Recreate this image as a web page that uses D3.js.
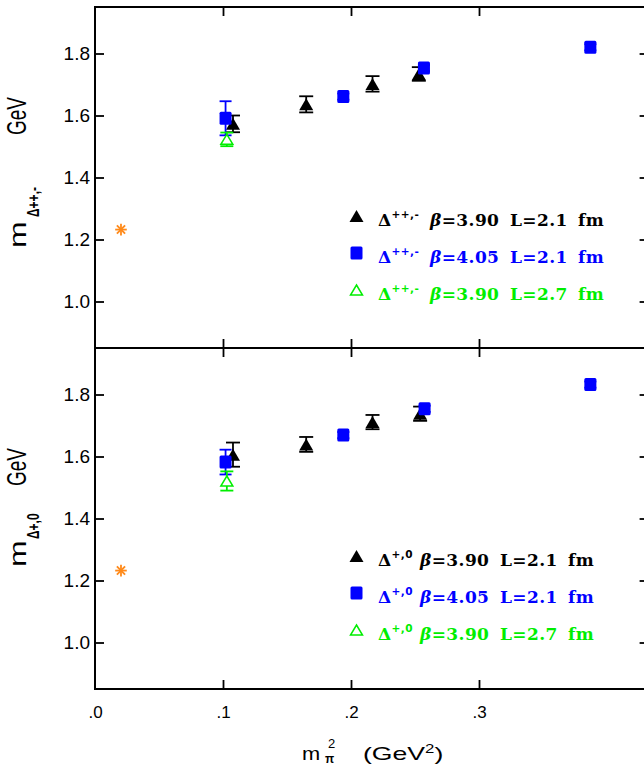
<!DOCTYPE html>
<html>
<head>
<meta charset="utf-8">
<script src="https://cdn.jsdelivr.net/npm/d3@7"></script>
<style>
  body { margin: 0; background: #fff; }
  svg { display: block; }
</style>
</head>
<body>
<div id="chart"></div>
<script>
// tick values
const xTicks = [0, 0.1, 0.2, 0.3];
const yTicks = [1.0, 1.2, 1.4, 1.6, 1.8];

// physical Delta mass
const physPoint = [{ x: 0.0203, y: 1.232 }];

// Delta++,- : x = m_pi^2, y = mass, e = error
const ppB390L21 = [
  { x: 0.1078, y: 1.573, e: 0.027 },
  { x: 0.1650, y: 1.636, e: 0.026 },
  { x: 0.2168, y: 1.702, e: 0.025 },
  { x: 0.2530, y: 1.734, e: 0.022 }
];
const ppB405L21 = [
  { x: 0.1020, y: 1.591, e: 0.055 },
  { x: 0.1940, y: 1.661, e: 0.010 },
  { x: 0.2570, y: 1.753, e: 0.010 },
  { x: 0.3870, y: 1.820, e: 0.010 }
];
const ppB390L27 = [
  { x: 0.1030, y: 1.523, e: 0.022 }
];

// Delta+,0
const p0B390L21 = [
  { x: 0.1078, y: 1.606, e: 0.039 },
  { x: 0.1650, y: 1.639, e: 0.024 },
  { x: 0.2168, y: 1.711, e: 0.023 },
  { x: 0.2540, y: 1.738, e: 0.023 }
];
const p0B405L21 = [
  { x: 0.1020, y: 1.582, e: 0.040 },
  { x: 0.1940, y: 1.669, e: 0.010 },
  { x: 0.2575, y: 1.754, e: 0.010 },
  { x: 0.3870, y: 1.832, e: 0.010 }
];
const p0B390L27 = [
  { x: 0.1030, y: 1.521, e: 0.031 }
];

const legendBeta = ["3.90", "4.05", "3.90"];
const legendL = ["2.1", "2.1", "2.7"];

const BLACK = "#000", BLUE = "#0000ff", GREEN = "#00ee00", ORANGE = "#ff8a1a";
const SANS = "Liberation Sans, Arial, sans-serif";

const W = 644, H = 766;
const svg = d3.select("#chart").append("svg")
    .attr("width", W)
    .attr("height", H);

const x = d3.scaleLinear().domain([0, 0.4325]).range([95, 648.6]);

const panels = [
  { top: 7, bottom: 348, sup: "++,-", sets: [ppB390L21, ppB405L21, ppB390L27],
    legY: 216, bx: 430, mY: 248, subY: 217, gevY: 97 },
  { top: 348, bottom: 689, sup: "+,0", sets: [p0B390L21, p0B405L21, p0B390L27],
    legY: 556, bx: 420, mY: 567, subY: 539, gevY: 448 }
];

const styles = [
  { color: BLACK, kind: "tri", cap: 14 },
  { color: BLUE, kind: "sq", cap: 12 },
  { color: GREEN, kind: "open", cap: 13 }
];

function triPath(w, h) {
  return `M0,${-h / 2}L${w / 2},${h / 2}L${-w / 2},${h / 2}Z`;
}

function drawMarker(g, kind, color) {
  if (kind === "tri") {
    g.append("path").attr("d", triPath(14, 12)).attr("fill", color);
  } else if (kind === "sq") {
    g.append("rect").attr("x", -6).attr("y", -6.5).attr("width", 12).attr("height", 13)
      .attr("rx", 1.5).attr("fill", color);
  } else {
    g.append("path").attr("d", triPath(12, 10)).attr("fill", "#fff")
      .attr("stroke", color).attr("stroke-width", 1.5);
  }
}

panels.forEach((p, pi) => {
  const y = d3.scaleLinear().domain([0.85, 1.95]).range([p.bottom, p.top]);
  const g = svg.append("g");

  // left axis with labels
  g.append("g")
    .attr("transform", `translate(${x(0)},0)`)
    .call(d3.axisLeft(y).tickValues(yTicks).tickSize(-9).tickPadding(5)
      .tickFormat(d3.format(".1f")))
    .call(a => a.select(".domain").remove())
    .call(a => a.selectAll("line").attr("stroke-width", 1.8))
    .call(a => a.selectAll("text").attr("font-family", SANS)
      .attr("font-size", 19).attr("fill", "#000"));

  // right axis ticks
  g.append("g")
    .attr("transform", `translate(${x.range()[1]},0)`)
    .call(d3.axisRight(y).tickValues(yTicks).tickSize(-9).tickFormat(""))
    .call(a => a.select(".domain").remove())
    .call(a => a.selectAll("line").attr("stroke-width", 1.8));

  // top and bottom ticks
  [p.top, p.bottom].forEach((yy, k) => {
    const ax = k === 0 ? d3.axisTop(x) : d3.axisBottom(x);
    g.append("g")
      .attr("transform", `translate(0,${yy})`)
      .call(ax.tickValues(xTicks.slice(1)).tickSize(-9).tickFormat(""))
      .call(a => a.select(".domain").remove())
      .call(a => a.selectAll("line").attr("stroke-width", 1.8));
  });

  // frame
  g.append("rect")
    .attr("x", x(0)).attr("y", p.top)
    .attr("width", x.range()[1] - x(0)).attr("height", p.bottom - p.top)
    .attr("fill", "none").attr("stroke", "#000").attr("stroke-width", 2);

  // data
  p.sets.forEach((data, si) => {
    const st = styles[si];
    const sg = g.append("g");
    const pts = sg.selectAll("g.pt").data(data).enter().append("g").attr("class", "pt");
    pts.append("line")
      .attr("x1", d => x(d.x)).attr("x2", d => x(d.x))
      .attr("y1", d => y(d.y - d.e)).attr("y2", d => y(d.y + d.e))
      .attr("stroke", st.color).attr("stroke-width", 1.8);
    [-1, 1].forEach(s => {
      pts.append("line")
        .attr("x1", d => x(d.x) - st.cap / 2).attr("x2", d => x(d.x) + st.cap / 2)
        .attr("y1", d => y(d.y + s * d.e)).attr("y2", d => y(d.y + s * d.e))
        .attr("stroke", st.color).attr("stroke-width", 1.8);
    });
    pts.each(function (d) {
      const m = d3.select(this).append("g")
        .attr("transform", `translate(${x(d.x)},${y(d.y)})`);
      drawMarker(m, st.kind, st.color);
    });
  });

  // physical point (asterisk)
  const star = g.selectAll("g.star").data(physPoint).enter().append("g")
    .attr("class", "star")
    .attr("transform", d => `translate(${x(d.x)},${y(d.y)})`);
  [0, 45, 90, 135].forEach(a => {
    star.append("line").attr("x1", -5.8).attr("x2", 5.8)
      .attr("transform", `rotate(${a})`)
      .attr("stroke", ORANGE).attr("stroke-width", 1.8);
  });

  // legend
  styles.forEach((st, i) => {
    const ly = p.legY + i * 37;
    const m = g.append("g").attr("transform", `translate(356.5,${ly})`);
    drawMarker(m, st.kind, st.color);
    const t = g.append("text")
      .attr("y", ly + 10)
      .attr("font-family", "DejaVu Serif, serif")
      .attr("font-weight", "bold")
      .attr("font-size", 17)
      .attr("letter-spacing", 0.4)
      .attr("fill", st.color);
    t.append("tspan").attr("x", 378).text("\u0394");
    t.append("tspan").attr("dy", -8).attr("font-size", 10.5)
      .attr("font-family", "DejaVu Sans, sans-serif").text(p.sup);
    t.append("tspan").attr("x", p.bx).attr("dy", 8).attr("font-style", "italic").text("\u03b2");
    t.append("tspan").text("=" + legendBeta[i]);
    t.append("tspan").attr("x", p.bx + 80).text("L=" + legendL[i]);
    t.append("tspan").attr("x", p.bx + 148).text("fm");
  });

  // y axis title (stretched like the original)
  const rot = (px, py, sx, sy) => `translate(${px},${py}) scale(${sx},${sy}) rotate(-90)`;
  g.append("text").attr("transform", rot(25.5, p.mY, 1.2, 1.6))
    .attr("font-family", SANS).attr("font-size", 20).text("m");
  g.append("text").attr("transform", rot(39, p.subY, 1.45, 1))
    .attr("font-family", SANS).attr("font-size", 12).attr("font-weight", "bold")
    .text("\u0394" + p.sup);
  g.append("text").attr("transform", rot(26, p.gevY, 1.45, 1))
    .attr("text-anchor", "end")
    .attr("font-family", SANS).attr("font-size", 19).text("GeV");
});

// x tick labels
svg.append("g")
  .attr("transform", `translate(0,689)`)
  .call(d3.axisBottom(x).tickValues(xTicks).tickSize(0).tickPadding(17)
    .tickFormat(d => d3.format(".1f")(d).replace(/^0/, "")))
  .call(a => a.select(".domain").remove())
  .call(a => a.selectAll("text").attr("font-family", SANS)
    .attr("font-size", 17).attr("fill", "#000"));

// x axis title
svg.append("text")
  .attr("transform", "translate(302,760) scale(1.15,1)")
  .attr("font-family", SANS).attr("font-size", 19)
  .text("m");
svg.append("text")
  .attr("x", 325).attr("y", 763)
  .attr("font-family", SANS).attr("font-size", 12).attr("font-weight", "bold")
  .text("\u03c0");
svg.append("text")
  .attr("x", 328).attr("y", 748)
  .attr("font-family", SANS).attr("font-size", 13)
  .text("2");
const xt = svg.append("text")
  .attr("transform", "translate(363,760) scale(1.4,1)")
  .attr("font-family", SANS).attr("font-size", 19);
xt.append("tspan").text("(GeV");
xt.append("tspan").attr("font-size", 12).attr("dy", -7).text("2");
xt.append("tspan").attr("dy", 7).text(")");
</script>
</body>
</html>
